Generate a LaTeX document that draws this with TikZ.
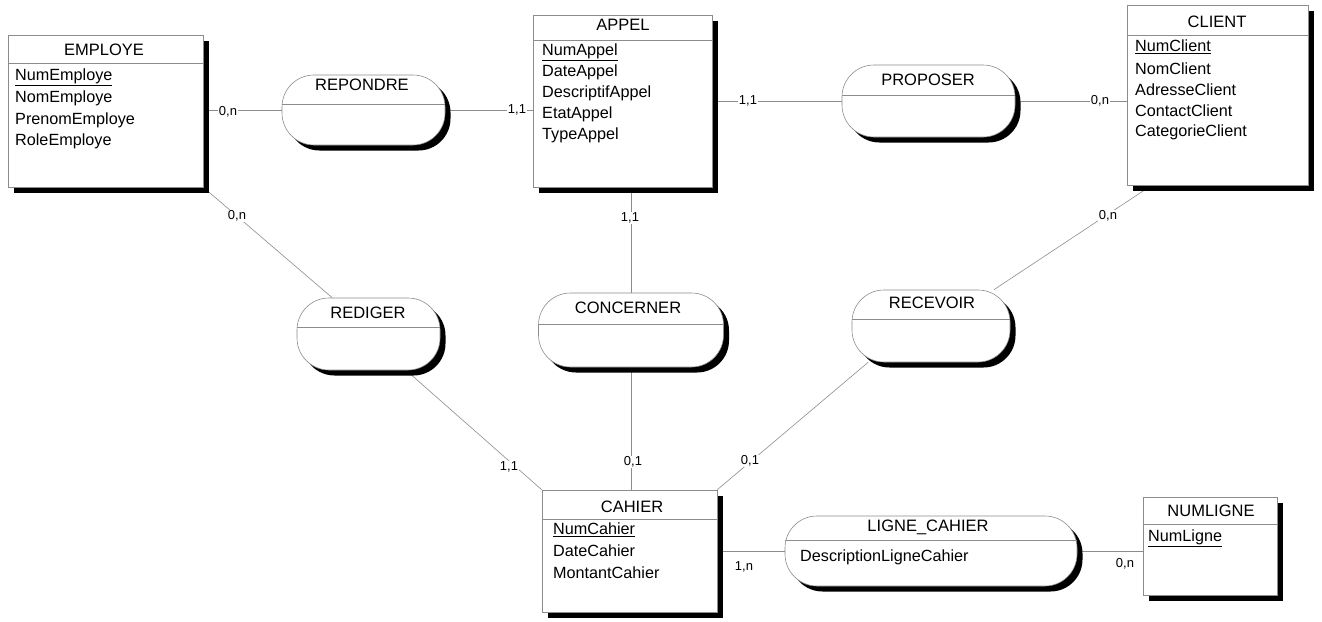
\documentclass[tikz,border=0pt]{standalone}
\usepackage{fontspec}
\setmainfont{Liberation Sans}
\usetikzlibrary{shadows,backgrounds}
\begin{document}
\begin{tikzpicture}[x=1pt,y=-1pt,
  box/.style={draw=black!45, line width=0.6pt, fill=white, inner sep=0pt,
     drop shadow={shadow xshift=5.5pt, shadow yshift=-5.5pt, fill=black, opacity=1}},
  entity/.style={box, rectangle},
  assoc/.style={box, rectangle, rounded corners=32pt},
  ttl/.style={font=\fontsize{16.5}{19}\selectfont, inner sep=0pt},
  attr/.style={font=\fontsize{16.2}{19}\selectfont, inner sep=0pt, anchor=west},
  card/.style={font=\fontsize{13}{15}\selectfont, fill=white, inner sep=1pt},
  link/.style={draw=black!45, line width=0.6pt},
  sep/.style={draw=black!45, line width=0.6pt}]
\useasboundingbox (0,0) rectangle (1322,621);

% entities
\node[entity, minimum width=195pt, minimum height=152pt] (employe) at (105.5,111) {};
\node[entity, minimum width=179pt, minimum height=172pt] (appel) at (622.5,101) {};
\node[entity, minimum width=181pt, minimum height=180pt] (client) at (1217.5,95) {};
\node[entity, minimum width=175pt, minimum height=122pt] (cahier) at (629.5,551) {};
\node[entity, minimum width=134pt, minimum height=98pt] (numligne) at (1210,546) {};

% associations
\node[assoc, minimum width=163pt, minimum height=70pt] (repondre) at (363.5,110) {};
\node[assoc, minimum width=173pt, minimum height=72pt] (proposer) at (928.5,101) {};
\node[assoc, minimum width=143pt, minimum height=72pt] (rediger) at (368.5,334) {};
\node[assoc, minimum width=185pt, minimum height=74pt] (concerner) at (631,330) {};
\node[assoc, minimum width=158pt, minimum height=72pt] (recevoir) at (931,326) {};
\node[assoc, minimum width=292pt, minimum height=70pt] (ligne) at (931,551) {};

% separators
\draw[sep] (employe.west |- 0,63) -- (employe.east |- 0,63);
\draw[sep] (appel.west |- 0,40) -- (appel.east |- 0,40);
\draw[sep] (client.west |- 0,35) -- (client.east |- 0,35);
\draw[sep] (cahier.west |- 0,519) -- (cahier.east |- 0,519);
\draw[sep] (numligne.west |- 0,524) -- (numligne.east |- 0,524);
\draw[sep] (repondre.west |- 0,104) -- (repondre.east |- 0,104);
\draw[sep] (proposer.west |- 0,95) -- (proposer.east |- 0,95);
\draw[sep] (rediger.west |- 0,327) -- (rediger.east |- 0,327);
\draw[sep] (concerner.west |- 0,324) -- (concerner.east |- 0,324);
\draw[sep] (recevoir.west |- 0,319) -- (recevoir.east |- 0,319);
\draw[sep] (ligne.west |- 0,540) -- (ligne.east |- 0,540);

% titles
\node[ttl] (employe-t) at (104,50) {EMPLOYE};
\node[ttl] (appel-t) at (623,25) {APPEL};
\node[ttl] (client-t) at (1217,22) {CLIENT};
\node[ttl] (cahier-t) at (632,507) {CAHIER};
\node[ttl] (numligne-t) at (1211,511) {NUMLIGNE};
\node[ttl] (repondre-t) at (362,85) {REPONDRE};
\node[ttl] (proposer-t) at (928,80) {PROPOSER};
\node[ttl] (rediger-t) at (368,313) {REDIGER};
\node[ttl] (concerner-t) at (628,308) {CONCERNER};
\node[ttl] (recevoir-t) at (932,303) {RECEVOIR};
\node[ttl] (ligne-t) at (928,527) {LIGNE\_CAHIER};

% attributes
\node[attr] (employe-a1) at (15,77) {\underline{NumEmploye}};
\node[attr] (employe-a2) at (15,98.5) {NomEmploye};
\node[attr] (employe-a3) at (15,120) {PrenomEmploye};
\node[attr] (employe-a4) at (15,141.5) {RoleEmploye};

\node[attr] (appel-a1) at (542,52) {\underline{NumAppel}};
\node[attr] (appel-a2) at (542,72.5) {DateAppel};
\node[attr] (appel-a3) at (542,93) {DescriptifAppel};
\node[attr] (appel-a4) at (542,114) {EtatAppel};
\node[attr] (appel-a5) at (542,135) {TypeAppel};

\node[attr] (client-a1) at (1135,47) {\underline{NumClient}};
\node[attr] (client-a2) at (1135,69) {NomClient};
\node[attr] (client-a3) at (1135,90) {AdresseClient};
\node[attr] (client-a4) at (1135,111) {ContactClient};
\node[attr] (client-a5) at (1135,132) {CategorieClient};

\node[attr] (cahier-a1) at (553,530) {\underline{NumCahier}};
\node[attr] (cahier-a2) at (553,551) {DateCahier};
\node[attr] (cahier-a3) at (553,573) {MontantCahier};

\node[attr] (numligne-a1) at (1148,538) {\underline{NumLigne}};

\node[attr] (ligne-a1) at (800,557) {DescriptionLigneCahier};

% connectors
\begin{scope}[on background layer]
\draw[link] (employe.east |- repondre.west) -- (repondre.west);
\draw[link] (repondre.east) -- (appel.west |- repondre.east);
\draw[link] (appel.east |- proposer.west) -- (proposer.west);
\draw[link] (proposer.east) -- (client.west |- proposer.east);
\draw[link] (concerner.north) -- (concerner.north |- appel.south);
\draw[link] (concerner.south) -- (concerner.south |- cahier.north);
\draw[link] (cahier.east |- ligne.west) -- (ligne.west);
\draw[link] (ligne.east) -- (numligne.west |- ligne.east);
\draw[link] (employe.south east) -- (rediger.135);
\draw[link] (rediger.-44) -- (cahier.north west);
\coordinate (clientr) at ([xshift=25pt]client.south west);
\draw[link] (clientr) -- (recevoir.30);
\draw[link] (recevoir.-150) -- (cahier.north east);
\end{scope}

% cardinalities
\node[card] (c1) at (228,112) {0,n};
\node[card] (c2) at (517,110) {1,1};
\node[card] (c3) at (748,101) {1,1};
\node[card] (c4) at (1100,101) {0,n};
\node[card] (c5) at (237,216) {0,n};
\node[card] (c6) at (630,218) {1,1};
\node[card] (c7) at (1108,216) {0,n};
\node[card] (c8) at (509,467) {1,1};
\node[card] (c9) at (633,462) {0,1};
\node[card] (c10) at (750,461) {0,1};
\node[card] (c11) at (744,567) {1,n};
\node[card] (c12) at (1125,564) {0,n};
\end{tikzpicture}
\end{document}
